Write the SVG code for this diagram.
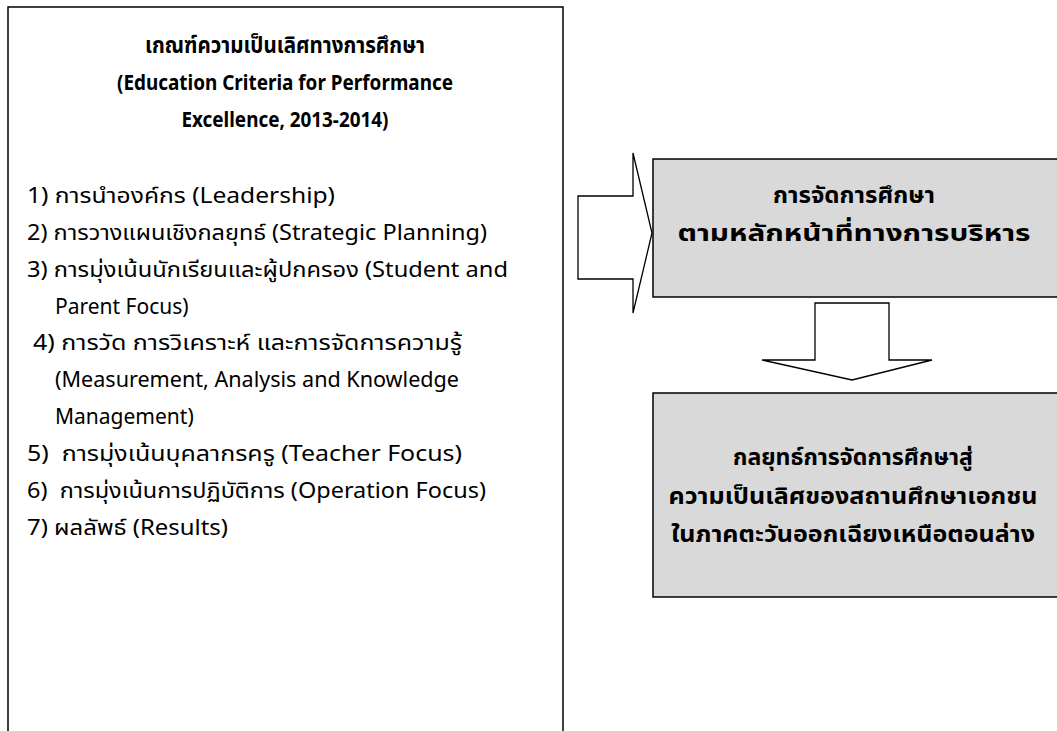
<svg xmlns="http://www.w3.org/2000/svg" width="1057" height="731" viewBox="0 0 1057 731">
<style>
text{font-family:"Noto Sans","Noto Sans Thai","DejaVu Sans",sans-serif;font-size:21px;fill:#000}
.b{font-weight:bold}
.c{text-anchor:middle}
.t{font-size:23px}
.box{fill:#fff;stroke:#000;stroke-width:1.5}
.gbox{fill:#d9d9d9;stroke:#000;stroke-width:1.5}
.arr{fill:#fff;stroke:#000;stroke-width:1.3;stroke-linejoin:miter}
</style>
<rect width="1057" height="731" fill="#fff"/>
<g id="criteria">
<rect class="box" x="8" y="7" width="555" height="740"/>
<text class="b c t" x="285" y="53" textLength="280" lengthAdjust="spacingAndGlyphs">เกณฑ์ความเป็นเลิศทางการศึกษา</text>
<text class="b c" x="285" y="90" textLength="336" lengthAdjust="spacingAndGlyphs">(Education Criteria for Performance</text>
<text class="b c" x="285" y="127" textLength="207" lengthAdjust="spacingAndGlyphs">Excellence, 2013-2014)</text>
<text x="27" y="203" textLength="308" lengthAdjust="spacingAndGlyphs">1) การนำองค์กร (Leadership)</text>
<text x="27" y="240" textLength="460" lengthAdjust="spacingAndGlyphs">2) การวางแผนเชิงกลยุทธ์ (Strategic Planning)</text>
<text x="27" y="277" textLength="481" lengthAdjust="spacingAndGlyphs">3) การมุ่งเน้นนักเรียนและผู้ปกครอง (Student and</text>
<text x="55" y="314">Parent Focus)</text>
<text x="33" y="350" textLength="429" lengthAdjust="spacingAndGlyphs">4) การวัด การวิเคราะห์ และการจัดการความรู้</text>
<text x="55" y="387" textLength="404" lengthAdjust="spacingAndGlyphs">(Measurement, Analysis and Knowledge</text>
<text x="55" y="424">Management)</text>
<text x="27" y="461" textLength="435" lengthAdjust="spacingAndGlyphs" xml:space="preserve">5)  การมุ่งเน้นบุคลากรครู (Teacher Focus)</text>
<text x="27" y="498" textLength="459" lengthAdjust="spacingAndGlyphs" xml:space="preserve">6)  การมุ่งเน้นการปฏิบัติการ (Operation Focus)</text>
<text x="27" y="535" textLength="201" lengthAdjust="spacingAndGlyphs">7) ผลลัพธ์ (Results)</text>
</g>
<g id="connectors">
<path class="arr" d="M578,196 H633 V153 L652,233 L633,313 V279 H578 Z"/>
<path class="arr" d="M815,303 H889 V360 H932 L852,380 L762,360 H815 Z"/>
</g>
<g id="management">
<rect class="gbox" x="653" y="159" width="410" height="138"/>
<text class="b c t" x="854" y="203" textLength="162" lengthAdjust="spacingAndGlyphs">การจัดการศึกษา</text>
<text class="b c t" x="854" y="241" textLength="353" lengthAdjust="spacingAndGlyphs">ตามหลักหน้าที่ทางการบริหาร</text>
</g>
<g id="strategy">
<rect class="gbox" x="653" y="393" width="410" height="204"/>
<text class="b c t" x="853" y="465" textLength="240" lengthAdjust="spacingAndGlyphs">กลยุทธ์การจัดการศึกษาสู่</text>
<text class="b c t" x="853" y="504" textLength="369" lengthAdjust="spacingAndGlyphs">ความเป็นเลิศของสถานศึกษาเอกชน</text>
<text class="b c t" x="853" y="542" textLength="364" lengthAdjust="spacingAndGlyphs">ในภาคตะวันออกเฉียงเหนือตอนล่าง</text>
</g>
</svg>
